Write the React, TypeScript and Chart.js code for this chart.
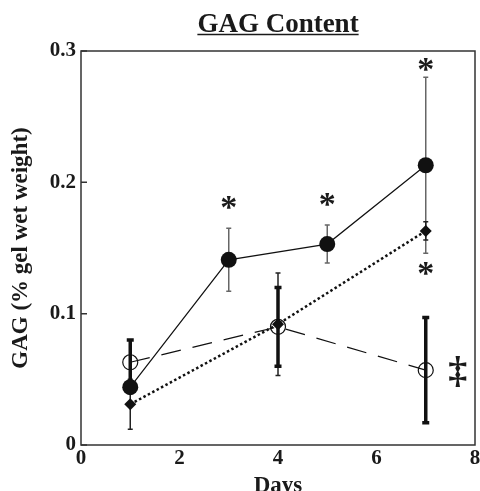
import React, { useEffect, useRef } from 'react';
import { Chart, registerables } from 'chart.js';
Chart.register(...registerables);

// ---- data ----
const titleText = 'GAG Content';
const xTitle = 'Days';
const yTitle = 'GAG (% gel wet weight)';

const daysFilled = [1, 3, 5, 7];
const filledValues = [0.044, 0.141, 0.153, 0.213];
const filledErrors = [0.005, 0.024, 0.0145, 0.067];

const daysOpen = [1, 4, 7];
const openValues = [0.063, 0.09, 0.057];
const openErrors = [0.017, 0.03, 0.04];

const daysDiamond = [1, 4, 7];
const diamondValues = [0.031, 0.092, 0.163];
const diamondErrors = [0.019, 0.039, 0.007];

const xTickValues = [0, 2, 4, 6, 8];
const yTickValues = [0, 0.1, 0.2, 0.3];

const markX = [3, 5, 7, 7, 7.65];
const markY = [0.1845, 0.1866, 0.29, 0.1346, 0.0558];
const markText = ['*', '*', '*', '*', '‡'];

const FONT = "'Liberation Serif', 'Times New Roman', serif";

const toPoints = (xs: number[], ys: number[]) => xs.map((x, i) => ({ x, y: ys[i] }));

const errorBarPlugin = {
  id: 'errorBars',
  beforeDatasetsDraw(chart: any) {
    const { ctx } = chart;
    const xs = chart.scales.x;
    const ys = chart.scales.y;
    chart.data.datasets.forEach((ds: any) => {
      if (!ds.errors) return;
      const st = ds.errStyle;
      ctx.save();
      ctx.strokeStyle = st.color;
      ctx.lineWidth = st.width;
      ctx.lineCap = 'butt';
      ds.data.forEach((p: any, i: number) => {
        const e = ds.errors[i];
        const px = xs.getPixelForValue(p.x);
        const top = ys.getPixelForValue(p.y + e);
        const bot = ys.getPixelForValue(p.y - e);
        ctx.beginPath();
        ctx.moveTo(px, top);
        ctx.lineTo(px, bot);
        ctx.moveTo(px - st.cap, top);
        ctx.lineTo(px + st.cap, top);
        ctx.moveTo(px - st.cap, bot);
        ctx.lineTo(px + st.cap, bot);
        ctx.stroke();
      });
      ctx.restore();
    });
  },
};

const decorPlugin = {
  id: 'decor',
  afterDraw(chart: any) {
    const { ctx, chartArea: a } = chart;
    const xs = chart.scales.x;
    const ys = chart.scales.y;
    ctx.save();
    // frame
    ctx.strokeStyle = '#333';
    ctx.lineWidth = 1.5;
    ctx.strokeRect(a.left, a.top, a.right - a.left, a.bottom - a.top);
    // inward y ticks
    ctx.beginPath();
    yTickValues.forEach((v) => {
      const py = ys.getPixelForValue(v);
      ctx.moveTo(a.left, py);
      ctx.lineTo(a.left + 6, py);
    });
    ctx.stroke();
    // title
    ctx.fillStyle = '#1a1a1a';
    ctx.font = `bold 27px ${FONT}`;
    ctx.textAlign = 'center';
    ctx.textBaseline = 'alphabetic';
    const cx = (a.left + a.right) / 2;
    ctx.fillText(titleText, cx, 31.5);
    const w = ctx.measureText(titleText).width;
    ctx.lineWidth = 1.5;
    ctx.strokeStyle = '#1a1a1a';
    ctx.beginPath();
    ctx.moveTo(cx - w / 2, 34.5);
    ctx.lineTo(cx + w / 2, 34.5);
    ctx.stroke();
    // marks
    markText.forEach((t, i) => {
      ctx.font = t === '*' ? `bold 34px ${FONT}` : `bold 38px ${FONT}`;
      const m = ctx.measureText(t);
      const px = xs.getPixelForValue(markX[i]);
      const py = ys.getPixelForValue(markY[i]);
      const asc = m.actualBoundingBoxAscent;
      const desc = m.actualBoundingBoxDescent;
      ctx.fillText(t, px, py + (asc - desc) / 2);
    });
    ctx.restore();
  },
};

export default function App() {
  const ref = useRef<HTMLCanvasElement | null>(null);
  useEffect(() => {
    if (!ref.current) return;
    const chart = new Chart(ref.current, {
      type: 'scatter',
      data: {
        datasets: [
          {
            label: 'filled',
            data: toPoints(daysFilled, filledValues),
            showLine: true,
            borderColor: '#111',
            borderWidth: 1.2,
            backgroundColor: '#111',
            pointStyle: 'circle',
            pointRadius: 8,
            pointBorderWidth: 0,
            pointBackgroundColor: '#111',
            order: 0,
            errors: filledErrors,
            errStyle: { color: '#666', width: 1.5, cap: 2.5 },
          } as any,
          {
            label: 'diamond',
            data: toPoints(daysDiamond, diamondValues),
            showLine: true,
            borderColor: '#111',
            borderWidth: 2.5,
            borderDash: [2.5, 2.5],
            pointStyle: 'rectRot',
            pointRadius: 6,
            pointBorderWidth: 0,
            pointBackgroundColor: '#111',
            order: 1,
            errors: diamondErrors,
            errStyle: { color: '#222', width: 1.5, cap: 2.5 },
          } as any,
          {
            label: 'open',
            data: toPoints(daysOpen, openValues),
            showLine: true,
            borderColor: '#111',
            borderWidth: 1.2,
            borderDash: [20, 12],
            pointStyle: 'circle',
            pointRadius: 7.5,
            pointBorderWidth: 1.2,
            pointBorderColor: '#111',
            pointBackgroundColor: 'rgba(0,0,0,0)',
            order: 2,
            errors: openErrors,
            errStyle: { color: '#111', width: 3.5, cap: 3.5 },
          } as any,
        ],
      },
      options: {
        animation: false,
        responsive: false,
        devicePixelRatio: 1,
        layout: { autoPadding: false, padding: { top: 51, right: 5, left: 0, bottom: 0 } },
        plugins: {
          legend: { display: false },
          title: { display: false },
          tooltip: { enabled: false },
        },
        scales: {
          x: {
            type: 'linear',
            min: 0,
            max: 8,
            afterBuildTicks: (s: any) => {
              s.ticks = xTickValues.map((v) => ({ value: v }));
            },
            afterFit: (s: any) => {
              s.height = 46;
              s.paddingLeft = 0;
              s.paddingRight = 0;
            },
            grid: { display: false, drawTicks: false },
            border: { display: false },
            ticks: {
              padding: 1,
              color: '#1a1a1a',
              font: { family: FONT, size: 21, weight: 'bold' },
              callback: (v: any) => String(v),
            },
            title: {
              display: true,
              text: xTitle,
              color: '#1a1a1a',
              font: { family: FONT, size: 23, weight: 'bold' },
              padding: { top: 0, bottom: -9 },
            },
          },
          y: {
            type: 'linear',
            min: 0,
            max: 0.3,
            afterBuildTicks: (s: any) => {
              s.ticks = yTickValues.map((v) => ({ value: v }));
            },
            afterFit: (s: any) => {
              s.width = 81;
              s.paddingTop = 0;
              s.paddingBottom = 0;
            },
            grid: { display: false, drawTicks: false },
            border: { display: false },
            ticks: {
              padding: 5,
              color: '#1a1a1a',
              font: { family: FONT, size: 21, weight: 'bold' },
              callback: (v: any) => (v === 0 ? '0' : Number(v).toFixed(1)),
            },
            title: {
              display: true,
              text: yTitle,
              color: '#1a1a1a',
              font: { family: FONT, size: 23, weight: 'bold' },
              padding: { top: 7, bottom: 0 },
            },
          },
        },
      },
      plugins: [errorBarPlugin, decorPlugin],
    } as any);
    return () => chart.destroy();
  }, []);
  return (
    <div style={{ position: 'absolute', left: 0, top: 0, width: 480, height: 491, background: '#fff' }}>
      <canvas ref={ref} width={480} height={491} style={{ width: 480, height: 491 }} />
    </div>
  );
}
